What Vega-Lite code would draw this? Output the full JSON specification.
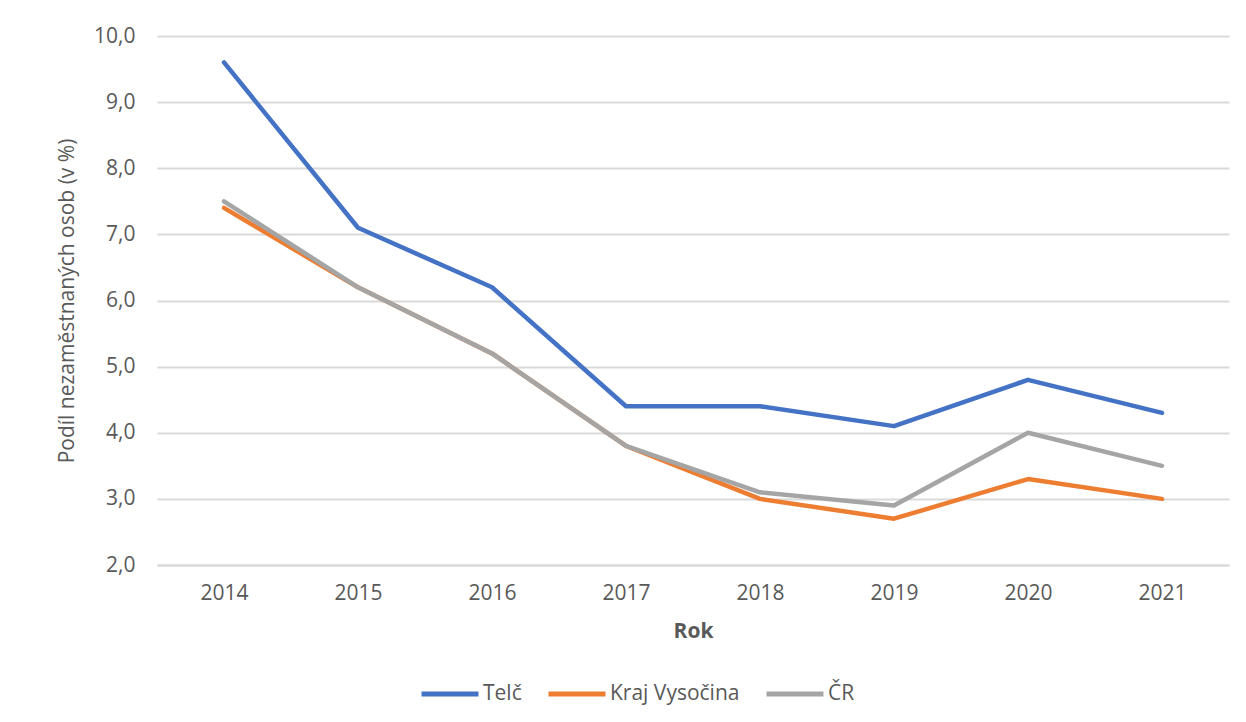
{
  "$schema": "https://vega.github.io/schema/vega-lite/v6.json",
  "width": 1072,
  "height": 529,
  "autosize": {"type": "none"},
  "padding": {"left": 157, "top": 36, "right": 17, "bottom": 157},
  "background": "white",
  "data": {
    "values": [
      {"rok": "2014", "serie": "Telč", "hodnota": 9.6},
      {"rok": "2015", "serie": "Telč", "hodnota": 7.1},
      {"rok": "2016", "serie": "Telč", "hodnota": 6.2},
      {"rok": "2017", "serie": "Telč", "hodnota": 4.4},
      {"rok": "2018", "serie": "Telč", "hodnota": 4.4},
      {"rok": "2019", "serie": "Telč", "hodnota": 4.1},
      {"rok": "2020", "serie": "Telč", "hodnota": 4.8},
      {"rok": "2021", "serie": "Telč", "hodnota": 4.3},
      {"rok": "2014", "serie": "Kraj Vysočina", "hodnota": 7.4},
      {"rok": "2015", "serie": "Kraj Vysočina", "hodnota": 6.2},
      {"rok": "2016", "serie": "Kraj Vysočina", "hodnota": 5.2},
      {"rok": "2017", "serie": "Kraj Vysočina", "hodnota": 3.8},
      {"rok": "2018", "serie": "Kraj Vysočina", "hodnota": 3.0},
      {"rok": "2019", "serie": "Kraj Vysočina", "hodnota": 2.7},
      {"rok": "2020", "serie": "Kraj Vysočina", "hodnota": 3.3},
      {"rok": "2021", "serie": "Kraj Vysočina", "hodnota": 3.0},
      {"rok": "2014", "serie": "ČR", "hodnota": 7.5},
      {"rok": "2015", "serie": "ČR", "hodnota": 6.2},
      {"rok": "2016", "serie": "ČR", "hodnota": 5.2},
      {"rok": "2017", "serie": "ČR", "hodnota": 3.8},
      {"rok": "2018", "serie": "ČR", "hodnota": 3.1},
      {"rok": "2019", "serie": "ČR", "hodnota": 2.9},
      {"rok": "2020", "serie": "ČR", "hodnota": 4.0},
      {"rok": "2021", "serie": "ČR", "hodnota": 3.5}
    ]
  },
  "mark": {"type": "line", "strokeWidth": 4.5, "strokeCap": "round", "strokeJoin": "round"},
  "encoding": {
    "x": {
      "field": "rok",
      "type": "ordinal",
      "scale": {"type": "point", "padding": 0.5},
      "axis": {
        "title": "Rok",
        "labelAngle": 0,
        "labelFont": "Open Sans",
        "labelFontSize": 21,
        "labelColor": "#595959",
        "labelPadding": 17,
        "ticks": false,
        "domain": true,
        "domainColor": "#d9d9d9",
        "domainWidth": 2,
        "titleFont": "Open Sans",
        "titleFontSize": 21,
        "titleFontWeight": "bold",
        "titleColor": "#595959",
        "titlePadding": 17
      }
    },
    "y": {
      "field": "hodnota",
      "type": "quantitative",
      "scale": {"domain": [2, 10], "nice": false, "zero": false},
      "axis": {
        "title": "Podíl nezaměstnaných osob (v %)",
        "values": [2, 3, 4, 5, 6, 7, 8, 9, 10],
        "labelExpr": "replace(format(datum.value, '.1f'), '.', ',')",
        "labelFont": "Open Sans",
        "labelFontSize": 21,
        "labelColor": "#595959",
        "labelPadding": 22,
        "ticks": false,
        "domain": false,
        "grid": true,
        "gridColor": "#d9d9d9",
        "gridWidth": 2,
        "titleFont": "Open Sans",
        "titleFontSize": 21,
        "titleFontWeight": "normal",
        "titleColor": "#595959",
        "titlePadding": 16
      }
    },
    "color": {
      "field": "serie",
      "type": "nominal",
      "sort": ["Telč", "Kraj Vysočina", "ČR"],
      "scale": {"domain": ["Telč", "Kraj Vysočina", "ČR"], "range": ["#4472C4", "#ED7D31", "#A5A5A5"]},
      "legend": {
        "title": null,
        "orient": "none",
        "direction": "horizontal",
        "legendX": 262,
        "legendY": 627,
        "symbolType": "stroke",
        "symbolSize": 3249,
        "symbolStrokeWidth": 5,
        "labelFont": "Open Sans",
        "labelFontSize": 21,
        "labelColor": "#595959",
        "labelOffset": 2,
        "columnPadding": 16
      }
    }
  },
  "config": {
    "view": {"stroke": null}
  }
}
